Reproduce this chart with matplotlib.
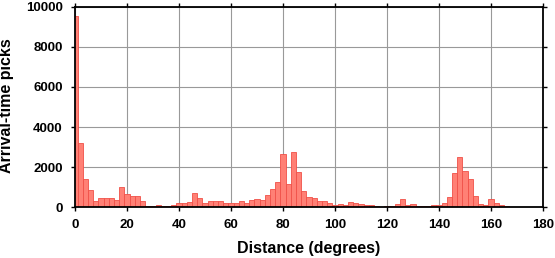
import numpy as np
import matplotlib
matplotlib.use('Agg')
import matplotlib.pyplot as plt

plt.rcParams['font.family'] = ['Liberation Sans', 'DejaVu Sans']
plt.rcParams['font.weight'] = 'bold'

# histogram bins are 2 degrees wide, centred on even degrees
bin_centres = np.arange(0, 172, 2)
counts = [9570, 3220, 1400, 860, 315, 445, 430, 460, 365, 990,
          660, 545, 560, 315, 65, 65, 115, 65, 65, 115,
          215, 200, 265, 710, 460, 200, 300, 315, 315, 200,
          200, 200, 315, 200, 365, 410, 365, 610, 910, 1255,
          2670, 1155, 2740, 1750, 810, 495, 460, 315, 315, 200,
          100, 165, 100, 265, 200, 165, 100, 115, 65, 15,
          65, 65, 165, 380, 115, 165, 65, 65, 50, 115,
          115, 215, 510, 1700, 2490, 1800, 1400, 560, 165, 115,
          410, 215, 115, 50, 15, 0]

x_ticks = np.arange(0, 181, 20)
y_ticks = np.arange(0, 10001, 2000)

fig = plt.figure(figsize=(5.55, 2.58), dpi=100)
ax = fig.add_axes([75/555, 51/258, 468/555, 200/258])

ax.bar(bin_centres, counts, width=2, align='center',
       facecolor='#ff8075', edgecolor='#f05048', linewidth=0.6, zorder=2)

ax.set_xlim(0, 180)
ax.set_ylim(0, 10000)
ax.set_xticks(x_ticks)
ax.set_yticks(y_ticks)
ax.grid(True, color='#999999', linewidth=0.8, zorder=0)
ax.set_axisbelow(True)

for s in ax.spines.values():
    s.set_linewidth(1.3)
    s.set_zorder(3)
ax.tick_params(direction='out', length=3, width=1.0, labelsize=9.5,
               top=True, right=True)
ax.tick_params(axis='y', pad=5.8)
ax.tick_params(axis='x', pad=5.5)
for lab in ax.get_xticklabels() + ax.get_yticklabels():
    lab.set_fontweight('bold')

# axis titles placed by hand
fig.text(309/555, 1 - 248/258, 'Distance (degrees)', fontsize=11.5,
         fontweight='bold', ha='center', va='center')
fig.text(7/555, 1 - 106/258, 'Arrival-time picks', fontsize=11.5,
         fontweight='bold', ha='center', va='center', rotation=90)

fig.savefig('out.png', dpi=100)
